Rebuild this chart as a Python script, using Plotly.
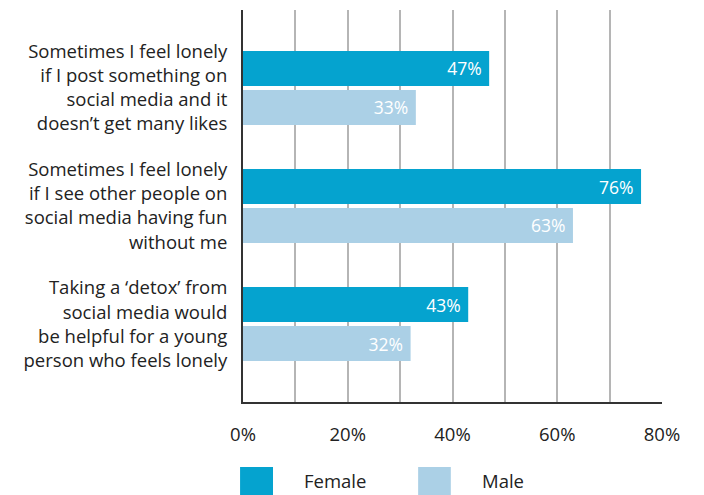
import plotly.graph_objects as go

categories = [
    "Sometimes I feel lonely<br>if I post something on<br>social media and it<br>doesn’t get many likes",
    "Sometimes I feel lonely<br>if I see other people on<br>social media having fun<br>without me",
    "Taking a ‘detox’ from<br>social media would<br>be helpful for a young<br>person who feels lonely",
]
female = [47, 76, 43]
male = [33, 63, 32]
series_names = ["Female", "Male"]
x_tick_values = [0, 10, 20, 30, 40, 50, 60, 70, 80]
x_tick_labels = ["0%", "", "20%", "", "40%", "", "60%", "", "80%"]

FEMALE_C = "#05A3CF"
MALE_C = "#ABD0E6"
FONT = "Open Sans"
TXT = "#222222"

fig = go.Figure()
for name, vals, col in [(series_names[0], female, FEMALE_C), (series_names[1], male, MALE_C)]:
    fig.add_trace(go.Bar(
        y=categories, x=vals, orientation="h", name=name,
        marker=dict(color=col, line=dict(width=0)),
        text=[f"{v}% " for v in vals], textposition="inside",
        insidetextanchor="end",
        textfont=dict(color="white", size=17.5, family=FONT),
        showlegend=False,
    ))

# page body has an 8px margin, so the figure is sized/offset to compensate
fig.update_layout(
    width=696, height=487,
    margin=dict(l=235, r=42, t=2, b=93),
    paper_bgcolor="white", plot_bgcolor="white",
    barmode="group", bargap=0.34, bargroupgap=0.1,
    font=dict(family=FONT, size=18.5, color=TXT),
)
fig.update_xaxes(
    range=[0, 80], tickvals=x_tick_values, ticktext=x_tick_labels,
    showgrid=True, gridcolor="#B5B5B5", gridwidth=1.5,
    zeroline=False, showline=True, linecolor="#333333", linewidth=2,
    ticks="", ticklabelstandoff=15,
    tickfont=dict(size=18.5, family=FONT, color=TXT),
)
fig.update_yaxes(
    range=[2.66, -0.66], showgrid=False, zeroline=False,
    showline=True, linecolor="#333333", linewidth=2,
    ticks="", ticklabelstandoff=10,
    tickfont=dict(size=18.5, family=FONT, color=TXT),
)

legend_items = [(series_names[0], FEMALE_C, -0.007, 0.0716, 0.141),
                (series_names[1], MALE_C, 0.418, 0.496, 0.566)]
for name, col, x0, x1, tx in legend_items:
    fig.add_shape(type="rect", xref="paper", yref="paper",
                  x0=x0, x1=x1, y0=-0.166, y1=-0.237,
                  fillcolor=col, line=dict(width=0))
    fig.add_annotation(text=name, xref="paper", yref="paper", x=tx, y=-0.2015,
                       xanchor="left", yanchor="middle", showarrow=False,
                       font=dict(size=18.5, family=FONT, color=TXT))

fig.write_html("out.html")
